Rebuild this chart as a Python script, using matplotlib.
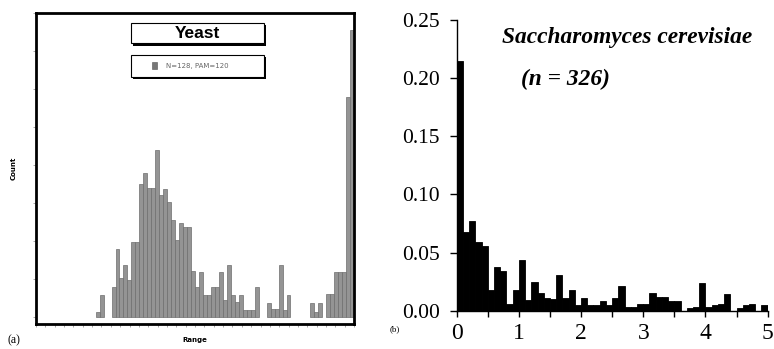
import numpy as np
import matplotlib
matplotlib.use("Agg")
import matplotlib.pyplot as plt
from matplotlib.patches import Rectangle

# === Panel (a): Yeast count histogram (80 equal bins over the range axis) ===
counts_a = [0, 0, 0, 0, 0, 0, 0, 0, 0, 0,
            0, 0, 0, 0, 0, 0.6, 2.8, 0, 0, 3.9,
            8.9, 5.1, 6.8, 4.8, 9.8, 9.8, 17.5, 18.9, 16.9, 16.9,
            21.9, 16.0, 16.8, 15.1, 12.7, 10.1, 12.3, 11.8, 11.8, 6.0,
            3.9, 5.9, 2.8, 2.8, 3.9, 3.9, 5.9, 2.2, 6.8, 2.8,
            1.9, 2.8, 0.9, 0.9, 0.9, 3.9, 0, 0, 1.8, 1.0,
            1.0, 6.8, 0.9, 2.8, 0, 0, 0, 0, 0, 1.8,
            0.6, 1.8, 0, 3.0, 3.0, 5.9, 5.9, 5.9, 28.9, 37.8]
title_a = "Yeast"
legend_a = "N=128, PAM=120"

# === Panel (b): Saccharomyces cerevisiae, relative frequency, bins of 0.1 ===
bin_edges_b = np.round(np.arange(0, 5.01, 0.1), 2)
freq_b = [0.215, 0.068, 0.077, 0.059, 0.056, 0.018, 0.038, 0.034, 0.006, 0.018,
          0.044, 0.009, 0.025, 0.015, 0.011, 0.010, 0.031, 0.011, 0.018, 0.005,
          0.011, 0.005, 0.005, 0.0086, 0.005, 0.011, 0.021, 0.003, 0.003, 0.0055,
          0.0055, 0.0155, 0.012, 0.012, 0.0086, 0.0086, 0, 0.002, 0.003, 0.024,
          0.003, 0.005, 0.006, 0.014, 0, 0.002, 0.005, 0.0055, 0, 0.005]
yticks_b = [0.00, 0.05, 0.10, 0.15, 0.20, 0.25]
xticks_b = [0, 1, 2, 3, 4, 5]

fig = plt.figure(figsize=(7.74, 3.49), dpi=100)

# ---------- (a) ----------
ax1 = fig.add_axes([0.0465, 0.073, 0.411, 0.89])
lw_a = [0.5 if c > 0 else 0 for c in counts_a]   # no outline on empty bins
ax1.bar(np.arange(len(counts_a)), counts_a, width=1.0, align="edge",
        color="#949494", edgecolor="#6e6e6e", linewidth=lw_a)
ax1.set_xlim(0, 80)
ax1.set_ylim(-0.9, 40)
for s in ax1.spines.values():
    s.set_linewidth(2.0)
ax1.set_yticks(np.arange(0, 41, 5))
ax1.set_xticks(np.arange(0, 80.1, 80 / 34))
ax1.tick_params(axis="both", direction="out", length=2, width=0.6,
                color="#999999", labelleft=False, labelbottom=False)
ax1.set_ylabel("Count", fontsize=5, fontweight="bold", labelpad=12)
ax1.set_xlabel("Range", fontsize=5, fontweight="bold", labelpad=8)

# title box and legend box with drop shadows
for (x0, y0, w, h) in [(0.299, 0.902, 0.418, 0.066), (0.299, 0.794, 0.418, 0.071)]:
    ax1.add_patch(Rectangle((x0 + 0.006, y0 - 0.008), w, h, transform=ax1.transAxes,
                            facecolor="black", edgecolor="none", zorder=4))
    ax1.add_patch(Rectangle((x0, y0), w, h, transform=ax1.transAxes,
                            facecolor="white", edgecolor="black", linewidth=0.8, zorder=5))
ax1.text(0.508, 0.935, title_a, transform=ax1.transAxes, ha="center", va="center",
         fontsize=12.5, fontweight="bold", family="Liberation Sans", zorder=6)
ax1.add_patch(Rectangle((0.365, 0.819), 0.016, 0.022, transform=ax1.transAxes,
                        facecolor="#777777", edgecolor="#555555", linewidth=0.4, zorder=6))
ax1.text(0.41, 0.83, legend_a, transform=ax1.transAxes, ha="left", va="center",
         fontsize=5, color="#666666", zorder=6)

fig.text(0.010, 0.025, "(a)", fontsize=8.5, family="Liberation Serif", va="center")

# ---------- (b) ----------
ax2 = fig.add_axes([0.590, 0.1097, 0.4018, 0.833])
ax2.bar(bin_edges_b[:-1], freq_b, width=0.1, align="edge",
        color="black", edgecolor="black", linewidth=0.6)
ax2.set_xlim(0, 5)
ax2.set_ylim(0, 0.25)
ax2.spines["top"].set_visible(False)
ax2.spines["right"].set_visible(False)
ax2.spines["left"].set_linewidth(1.0)
ax2.spines["bottom"].set_linewidth(1.0)
ax2.set_yticks(yticks_b)
ax2.set_yticklabels([f"{v:.2f}" for v in yticks_b])
ax2.set_xticks(xticks_b)
ax2.set_xticks(np.arange(0, 5.01, 0.5), minor=True)
ax2.tick_params(axis="both", which="both", direction="out", width=1.0)
ax2.tick_params(axis="y", which="major", length=5, pad=7)
ax2.tick_params(axis="x", which="both", length=4.5)
ax2.tick_params(axis="x", which="major", pad=4)
for lab in ax2.get_yticklabels():
    lab.set_family("Liberation Serif")
    lab.set_fontsize(15.5)
for lab in ax2.get_xticklabels():
    lab.set_family("Liberation Serif")
    lab.set_fontsize(17)

ax2.text(0.549, 0.9415, "Saccharomyces cerevisiae", transform=ax2.transAxes,
         ha="center", va="center", fontsize=16.8, fontweight="bold", style="italic",
         family="Liberation Serif")
ax2.text(0.351, 0.794, "(n = 326)", transform=ax2.transAxes,
         ha="center", va="center", fontsize=16.8, fontweight="bold", style="italic",
         family="Liberation Serif")

fig.text(0.504, 0.057, "(b)", fontsize=6.5, family="Liberation Serif", va="center")

fig.savefig("out.png", dpi=100)
